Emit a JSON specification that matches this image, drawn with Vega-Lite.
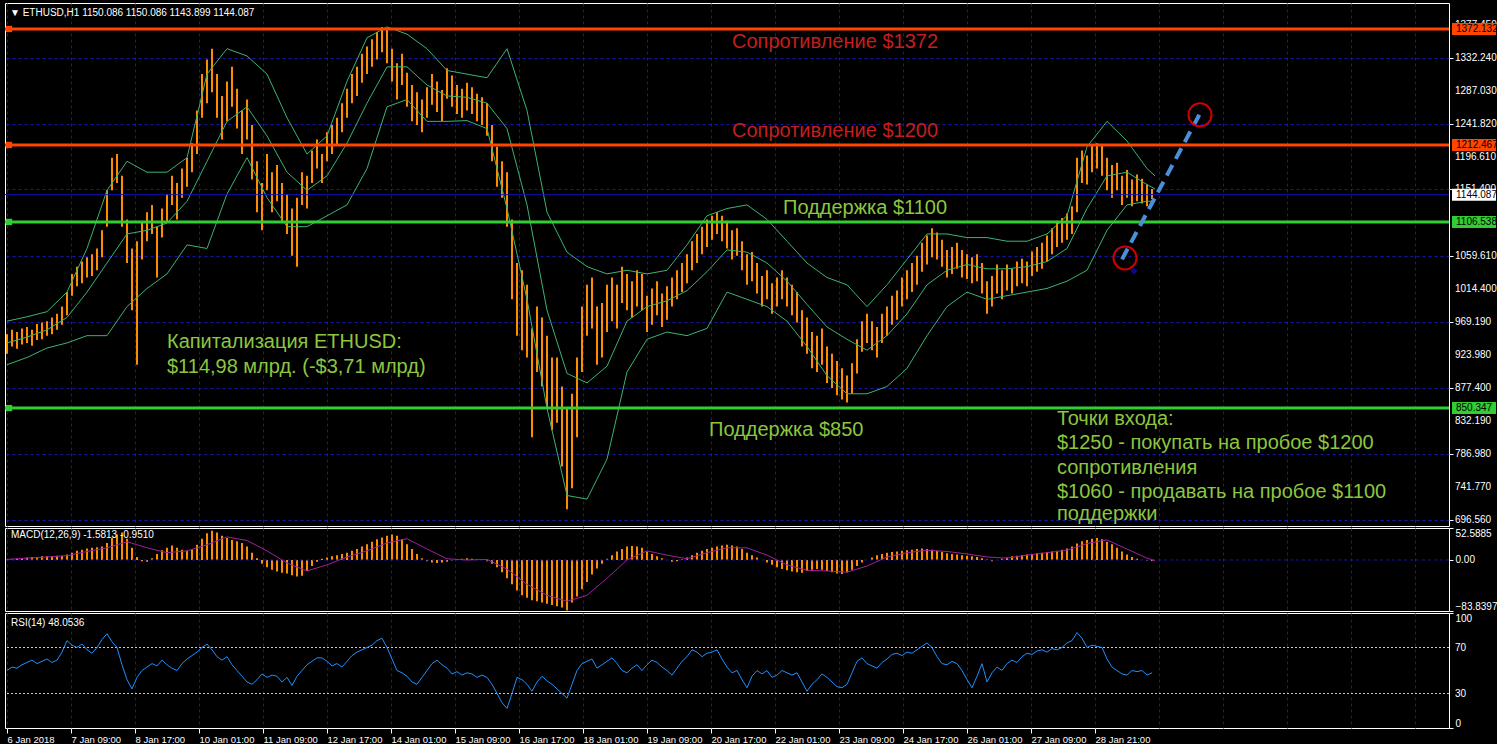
{
"$schema": "https://vega.github.io/schema/vega-lite/v6.json",
"background": "black",
"padding": {"left": 3, "top": 2, "right": 0, "bottom": 0},
"bounds": "flush",
"spacing": 2,
"config": {"view": {"stroke": "white", "strokeWidth": 1}, "font": "Liberation Sans", "axis": {"labelFont": "Liberation Sans", "labelOverlap": false, "labelBound": false}, "axisY": {"labelOverlap": false}, "text": {"font": "Liberation Sans"}, "scale": {"continuousPadding": 0}},
"datasets": {
"bars": [
{"t":0,"h":952,"l":925,"m":1,"r":50},{"t":2.5,"h":958,"l":935,"m":1,"r":53},{"t":5,"h":955,"l":932,"m":2,"r":52},{"t":7.5,"h":960,"l":938,"m":2,"r":55},{"t":10,"h":962,"l":940,"m":4,"r":57},{"t":12.5,"h":958,"l":936,"m":5,"r":59},{"t":15,"h":966,"l":944,"m":5,"r":56},{"t":17.5,"h":968,"l":945,"m":6,"r":58},{"t":20,"h":970,"l":950,"m":6,"r":60},{"t":22.5,"h":975,"l":952,"m":6,"r":57},
{"t":25,"h":980,"l":958,"m":7,"r":59},{"t":27.5,"h":990,"l":965,"m":7,"r":66},{"t":30,"h":1010,"l":978,"m":9,"r":76},{"t":32.5,"h":1035,"l":1005,"m":12,"r":72},{"t":35,"h":1045,"l":1018,"m":15,"r":70},{"t":37.5,"h":1052,"l":1022,"m":17,"r":73},{"t":40,"h":1058,"l":1030,"m":19,"r":68},{"t":42.5,"h":1062,"l":1032,"m":20,"r":65},{"t":45,"h":1070,"l":1040,"m":21,"r":70},{"t":47.5,"h":1095,"l":1058,"m":22,"r":77},
{"t":50,"h":1150,"l":1100,"m":28,"r":82},{"t":52.5,"h":1195,"l":1150,"m":36,"r":75},{"t":55,"h":1200,"l":1160,"m":42,"r":70},{"t":57.5,"h":1170,"l":1100,"m":45,"r":55},{"t":60,"h":1110,"l":1050,"m":35,"r":42},{"t":62.5,"h":1070,"l":985,"m":20,"r":34},{"t":65,"h":1080,"l":910,"m":5,"r":44},{"t":67.5,"h":1105,"l":1055,"m":-2,"r":50},{"t":70,"h":1120,"l":1080,"m":-3,"r":53},{"t":72.5,"h":1130,"l":1090,"m":3,"r":56},
{"t":75,"h":1100,"l":1030,"m":10,"r":54},{"t":77.5,"h":1125,"l":1085,"m":16,"r":59},{"t":80,"h":1145,"l":1105,"m":20,"r":55},{"t":82.5,"h":1170,"l":1130,"m":24,"r":52},{"t":85,"h":1160,"l":1110,"m":20,"r":50},{"t":87.5,"h":1180,"l":1140,"m":17,"r":56},{"t":90,"h":1195,"l":1155,"m":15,"r":60},{"t":92.5,"h":1215,"l":1175,"m":18,"r":63},{"t":95,"h":1260,"l":1200,"m":25,"r":66},{"t":97.5,"h":1310,"l":1250,"m":35,"r":70},
{"t":100,"h":1330,"l":1270,"m":44,"r":73},{"t":102.5,"h":1345,"l":1285,"m":48,"r":68},{"t":105,"h":1310,"l":1250,"m":45,"r":62},{"t":107.5,"h":1280,"l":1220,"m":40,"r":59},{"t":110,"h":1300,"l":1245,"m":36,"r":62},{"t":112.5,"h":1320,"l":1265,"m":33,"r":55},{"t":115,"h":1290,"l":1235,"m":31,"r":50},{"t":117.5,"h":1260,"l":1200,"m":28,"r":45},{"t":120,"h":1275,"l":1220,"m":22,"r":40},{"t":122.5,"h":1240,"l":1165,"m":12,"r":38},
{"t":125,"h":1190,"l":1120,"m":3,"r":42},{"t":127.5,"h":1160,"l":1095,"m":-6,"r":47},{"t":130,"h":1200,"l":1150,"m":-12,"r":44},{"t":132.5,"h":1175,"l":1120,"m":-16,"r":46},{"t":135,"h":1185,"l":1135,"m":-19,"r":45},{"t":137.5,"h":1160,"l":1105,"m":-21,"r":40},{"t":140,"h":1145,"l":1090,"m":-22,"r":44},{"t":142.5,"h":1125,"l":1060,"m":-25,"r":37},{"t":145,"h":1140,"l":1045,"m":-27,"r":45},{"t":147.5,"h":1175,"l":1130,"m":-26,"r":50},
{"t":150,"h":1170,"l":1125,"m":-18,"r":55},{"t":152.5,"h":1205,"l":1160,"m":-10,"r":58},{"t":155,"h":1220,"l":1180,"m":-3,"r":61},{"t":157.5,"h":1200,"l":1160,"m":2,"r":61},{"t":160,"h":1230,"l":1190,"m":4,"r":58},{"t":162.5,"h":1240,"l":1200,"m":6,"r":54},{"t":165,"h":1250,"l":1212,"m":8,"r":56},{"t":167.5,"h":1270,"l":1230,"m":10,"r":53},{"t":170,"h":1290,"l":1250,"m":12,"r":58},{"t":172.5,"h":1310,"l":1270,"m":15,"r":63},
{"t":175,"h":1320,"l":1280,"m":18,"r":66},{"t":177.5,"h":1338,"l":1298,"m":22,"r":68},{"t":180,"h":1348,"l":1310,"m":26,"r":70},{"t":182.5,"h":1358,"l":1320,"m":30,"r":72},{"t":185,"h":1368,"l":1330,"m":34,"r":76},{"t":187.5,"h":1375,"l":1340,"m":37,"r":78},{"t":190,"h":1372,"l":1325,"m":40,"r":70},{"t":192.5,"h":1345,"l":1300,"m":42,"r":60},{"t":195,"h":1325,"l":1275,"m":40,"r":50},{"t":197.5,"h":1338,"l":1295,"m":34,"r":48},
{"t":200,"h":1312,"l":1265,"m":26,"r":45},{"t":202.5,"h":1295,"l":1245,"m":18,"r":40},{"t":205,"h":1285,"l":1240,"m":10,"r":38},{"t":207.5,"h":1275,"l":1230,"m":3,"r":44},{"t":210,"h":1292,"l":1250,"m":-2,"r":50},{"t":212.5,"h":1310,"l":1268,"m":-4,"r":56},{"t":215,"h":1300,"l":1258,"m":-5,"r":59},{"t":217.5,"h":1288,"l":1245,"m":-4,"r":55},{"t":220,"h":1318,"l":1276,"m":-3,"r":52},{"t":222.5,"h":1308,"l":1265,"m":-1,"r":47},
{"t":225,"h":1295,"l":1255,"m":1,"r":49},{"t":227.5,"h":1290,"l":1250,"m":2,"r":46},{"t":230,"h":1298,"l":1260,"m":3,"r":48},{"t":232.5,"h":1292,"l":1255,"m":2,"r":47},{"t":235,"h":1283,"l":1245,"m":1,"r":44},{"t":237.5,"h":1278,"l":1240,"m":0,"r":46},{"t":240,"h":1270,"l":1225,"m":-2,"r":44},{"t":242.5,"h":1240,"l":1190,"m":-6,"r":38},{"t":245,"h":1210,"l":1155,"m":-12,"r":30},{"t":247.5,"h":1190,"l":1140,"m":-20,"r":22},
{"t":250,"h":1175,"l":1100,"m":-30,"r":17},{"t":252.5,"h":1110,"l":1000,"m":-40,"r":30},{"t":255,"h":1050,"l":950,"m":-50,"r":44},{"t":257.5,"h":1040,"l":930,"m":-58,"r":42},{"t":260,"h":1020,"l":920,"m":-62,"r":38},{"t":262.5,"h":960,"l":810,"m":-66,"r":32},{"t":265,"h":990,"l":900,"m":-68,"r":40},{"t":267.5,"h":975,"l":880,"m":-70,"r":45},{"t":270,"h":950,"l":850,"m":-72,"r":41},{"t":272.5,"h":920,"l":820,"m":-74,"r":38},
{"t":275,"h":920,"l":830,"m":-76,"r":34},{"t":277.5,"h":880,"l":770,"m":-78,"r":30},{"t":280,"h":850,"l":711,"m":-83,"r":26},{"t":282.5,"h":870,"l":740,"m":-70,"r":38},{"t":285,"h":920,"l":810,"m":-60,"r":50},{"t":287.5,"h":990,"l":900,"m":-48,"r":56},{"t":290,"h":1020,"l":950,"m":-36,"r":58},{"t":292.5,"h":1030,"l":960,"m":-24,"r":60},{"t":295,"h":990,"l":910,"m":-14,"r":52},{"t":297.5,"h":995,"l":920,"m":-6,"r":55},
{"t":300,"h":1020,"l":955,"m":2,"r":58},{"t":302.5,"h":1030,"l":970,"m":8,"r":61},{"t":305,"h":1020,"l":960,"m":14,"r":56},{"t":307.5,"h":1045,"l":995,"m":18,"r":50},{"t":310,"h":1035,"l":985,"m":22,"r":48},{"t":312.5,"h":1025,"l":975,"m":23,"r":52},{"t":315,"h":1040,"l":990,"m":22,"r":55},{"t":317.5,"h":1035,"l":985,"m":20,"r":50},{"t":320,"h":1005,"l":955,"m":14,"r":55},{"t":322.5,"h":1015,"l":965,"m":10,"r":59},
{"t":325,"h":1025,"l":978,"m":6,"r":57},{"t":327.5,"h":1008,"l":962,"m":3,"r":53},{"t":330,"h":1018,"l":972,"m":0,"r":50},{"t":332.5,"h":1030,"l":990,"m":-3,"r":46},{"t":335,"h":1040,"l":1000,"m":-2,"r":52},{"t":337.5,"h":1050,"l":1010,"m":1,"r":58},{"t":340,"h":1062,"l":1022,"m":4,"r":62},{"t":342.5,"h":1080,"l":1040,"m":8,"r":68},{"t":345,"h":1090,"l":1050,"m":12,"r":66},{"t":347.5,"h":1100,"l":1062,"m":15,"r":62},
{"t":350,"h":1110,"l":1072,"m":18,"r":65},{"t":352.5,"h":1115,"l":1082,"m":20,"r":66},{"t":355,"h":1120,"l":1090,"m":22,"r":68},{"t":357.5,"h":1115,"l":1080,"m":24,"r":60},{"t":360,"h":1108,"l":1070,"m":25,"r":53},{"t":362.5,"h":1095,"l":1055,"m":24,"r":48},{"t":365,"h":1098,"l":1060,"m":22,"r":50},{"t":367.5,"h":1080,"l":1040,"m":18,"r":42},{"t":370,"h":1062,"l":1020,"m":12,"r":35},{"t":372.5,"h":1065,"l":1025,"m":8,"r":45},
{"t":375,"h":1050,"l":1008,"m":4,"r":50},{"t":377.5,"h":1032,"l":990,"m":0,"r":47},{"t":380,"h":1040,"l":1000,"m":-4,"r":50},{"t":382.5,"h":1022,"l":980,"m":-8,"r":44},{"t":385,"h":1030,"l":990,"m":-12,"r":46},{"t":387.5,"h":1040,"l":1000,"m":-15,"r":50},{"t":390,"h":1030,"l":990,"m":-17,"r":48},{"t":392.5,"h":1020,"l":978,"m":-19,"r":46},{"t":395,"h":1010,"l":968,"m":-20,"r":48},{"t":397.5,"h":985,"l":935,"m":-21,"r":40},
{"t":400,"h":975,"l":925,"m":-18,"r":32},{"t":402.5,"h":955,"l":905,"m":-16,"r":38},{"t":405,"h":950,"l":900,"m":-15,"r":42},{"t":407.5,"h":960,"l":910,"m":-16,"r":47},{"t":410,"h":935,"l":885,"m":-18,"r":44},{"t":412.5,"h":925,"l":878,"m":-20,"r":40},{"t":415,"h":915,"l":868,"m":-22,"r":36},{"t":417.5,"h":905,"l":862,"m":-23,"r":35},{"t":420,"h":895,"l":858,"m":-20,"r":38},{"t":422.5,"h":912,"l":870,"m":-16,"r":48},
{"t":425,"h":945,"l":898,"m":-10,"r":58},{"t":427.5,"h":970,"l":928,"m":-4,"r":61},{"t":430,"h":980,"l":940,"m":0,"r":56},{"t":432.5,"h":970,"l":930,"m":4,"r":54},{"t":435,"h":962,"l":920,"m":8,"r":52},{"t":437.5,"h":980,"l":940,"m":10,"r":57},{"t":440,"h":990,"l":950,"m":12,"r":60},{"t":442.5,"h":1005,"l":965,"m":13,"r":64},{"t":445,"h":1012,"l":972,"m":14,"r":65},{"t":447.5,"h":1030,"l":990,"m":15,"r":63},
{"t":450,"h":1040,"l":1000,"m":16,"r":66},{"t":452.5,"h":1050,"l":1010,"m":17,"r":65},{"t":455,"h":1060,"l":1020,"m":18,"r":68},{"t":457.5,"h":1078,"l":1038,"m":19,"r":71},{"t":460,"h":1088,"l":1048,"m":18,"r":74},{"t":462.5,"h":1098,"l":1058,"m":17,"r":70},{"t":465,"h":1092,"l":1055,"m":15,"r":62},{"t":467.5,"h":1082,"l":1045,"m":13,"r":56},{"t":470,"h":1068,"l":1030,"m":11,"r":55},{"t":472.5,"h":1072,"l":1035,"m":10,"r":58},
{"t":475,"h":1078,"l":1042,"m":9,"r":56},{"t":477.5,"h":1068,"l":1030,"m":8,"r":50},{"t":480,"h":1062,"l":1028,"m":7,"r":42},{"t":482.5,"h":1058,"l":1022,"m":6,"r":35},{"t":485,"h":1062,"l":1025,"m":5,"r":45},{"t":487.5,"h":1050,"l":1008,"m":3,"r":56},{"t":490,"h":1025,"l":980,"m":1,"r":40},{"t":492.5,"h":1032,"l":990,"m":-2,"r":48},{"t":495,"h":1048,"l":1008,"m":0,"r":53},{"t":497.5,"h":1040,"l":1000,"m":2,"r":50},
{"t":500,"h":1048,"l":1012,"m":4,"r":56},{"t":502.5,"h":1042,"l":1008,"m":6,"r":59},{"t":505,"h":1052,"l":1018,"m":7,"r":57},{"t":507.5,"h":1056,"l":1022,"m":8,"r":62},{"t":510,"h":1052,"l":1018,"m":9,"r":65},{"t":512.5,"h":1066,"l":1032,"m":10,"r":64},{"t":515,"h":1072,"l":1038,"m":11,"r":67},{"t":517.5,"h":1078,"l":1042,"m":12,"r":68},{"t":520,"h":1088,"l":1052,"m":13,"r":66},{"t":522.5,"h":1098,"l":1062,"m":14,"r":69},
{"t":525,"h":1108,"l":1072,"m":15,"r":68},{"t":527.5,"h":1112,"l":1078,"m":17,"r":70},{"t":530,"h":1118,"l":1082,"m":19,"r":74},{"t":532.5,"h":1128,"l":1090,"m":22,"r":76},{"t":535,"h":1195,"l":1120,"m":27,"r":83},{"t":537.5,"h":1205,"l":1160,"m":31,"r":78},{"t":540,"h":1198,"l":1158,"m":33,"r":70},{"t":542.5,"h":1212,"l":1175,"m":35,"r":72},{"t":545,"h":1215,"l":1180,"m":36,"r":71},{"t":547.5,"h":1212,"l":1170,"m":34,"r":70},
{"t":550,"h":1195,"l":1150,"m":30,"r":60},{"t":552.5,"h":1185,"l":1140,"m":26,"r":53},{"t":555,"h":1188,"l":1150,"m":20,"r":50},{"t":557.5,"h":1170,"l":1130,"m":14,"r":47},{"t":560,"h":1178,"l":1140,"m":9,"r":46},{"t":562.5,"h":1165,"l":1128,"m":5,"r":50},{"t":565,"h":1172,"l":1135,"m":2,"r":49},{"t":567.5,"h":1166,"l":1132,"m":0,"r":50},{"t":570,"h":1158,"l":1128,"m":-1,"r":46},{"t":572.5,"h":1152,"l":1138,"m":-1.6,"r":48}
],
"bb": [
{"t":0,"u":970,"c":940,"lo":910},{"t":10,"u":976,"c":948,"lo":920},{"t":20,"u":983,"c":958,"lo":933},{"t":30,"u":1010,"c":975,"lo":940},{"t":40,"u":1070,"c":1010,"lo":950},{"t":50,"u":1150,"c":1050,"lo":950},{"t":60,"u":1190,"c":1090,"lo":990},{"t":70,"u":1175,"c":1095,"lo":1015},{"t":80,"u":1175,"c":1105,"lo":1035},{"t":90,"u":1195,"c":1135,"lo":1075},
{"t":100,"u":1310,"c":1190,"lo":1070},{"t":110,"u":1345,"c":1245,"lo":1145},{"t":120,"u":1335,"c":1265,"lo":1195},{"t":130,"u":1310,"c":1225,"lo":1140},{"t":140,"u":1250,"c":1175,"lo":1100},{"t":150,"u":1200,"c":1150,"lo":1100},{"t":160,"u":1225,"c":1170,"lo":1115},{"t":170,"u":1300,"c":1215,"lo":1130},{"t":180,"u":1360,"c":1270,"lo":1180},{"t":190,"u":1375,"c":1320,"lo":1265},
{"t":200,"u":1365,"c":1320,"lo":1275},{"t":210,"u":1345,"c":1295,"lo":1245},{"t":220,"u":1315,"c":1280,"lo":1245},{"t":230,"u":1310,"c":1278,"lo":1246},{"t":240,"u":1305,"c":1270,"lo":1235},{"t":250,"u":1345,"c":1235,"lo":1125},{"t":260,"u":1260,"c":1130,"lo":1000},{"t":270,"u":1120,"c":985,"lo":850},{"t":280,"u":1065,"c":898,"lo":730},{"t":290,"u":1045,"c":885,"lo":725},
{"t":300,"u":1035,"c":908,"lo":780},{"t":310,"u":1040,"c":970,"lo":900},{"t":320,"u":1035,"c":990,"lo":945},{"t":330,"u":1040,"c":998,"lo":955},{"t":340,"u":1075,"c":1012,"lo":950},{"t":350,"u":1115,"c":1038,"lo":960},{"t":360,"u":1125,"c":1068,"lo":1010},{"t":370,"u":1130,"c":1065,"lo":1000},{"t":380,"u":1110,"c":1050,"lo":990},{"t":390,"u":1080,"c":1025,"lo":970},
{"t":400,"u":1050,"c":993,"lo":935},{"t":410,"u":1030,"c":962,"lo":895},{"t":420,"u":1020,"c":945,"lo":870},{"t":430,"u":990,"c":930,"lo":870},{"t":440,"u":1020,"c":950,"lo":880},{"t":450,"u":1055,"c":980,"lo":905},{"t":460,"u":1090,"c":1020,"lo":950},{"t":470,"u":1090,"c":1040,"lo":990},{"t":480,"u":1085,"c":1048,"lo":1010},{"t":490,"u":1085,"c":1042,"lo":1000},
{"t":500,"u":1080,"c":1042,"lo":1005},{"t":510,"u":1080,"c":1045,"lo":1010},{"t":520,"u":1090,"c":1052,"lo":1015},{"t":530,"u":1115,"c":1070,"lo":1025},{"t":540,"u":1210,"c":1125,"lo":1040},{"t":550,"u":1245,"c":1170,"lo":1095},{"t":560,"u":1218,"c":1175,"lo":1130},{"t":570,"u":1180,"c":1158,"lo":1135},{"t":574,"u":1170,"c":1152,"lo":1135}
],
"sig": [
{"t":0,"s":1},{"t":10,"s":3},{"t":20,"s":5},{"t":30,"s":7},{"t":40,"s":14},{"t":50,"s":20},{"t":60,"s":30},{"t":70,"s":20},{"t":80,"s":12},{"t":90,"s":15},{"t":100,"s":25},{"t":110,"s":38},{"t":120,"s":32},{"t":130,"s":15},{"t":140,"s":-5},{"t":150,"s":-18},{"t":160,"s":-8},{"t":170,"s":5},{"t":180,"s":15},{"t":190,"s":28},{"t":200,"s":35},{"t":210,"s":18},{"t":220,"s":2},{"t":230,"s":0},{"t":240,"s":1},{"t":250,"s":-15},{"t":260,"s":-40},{"t":270,"s":-58},{"t":280,"s":-68},{"t":290,"s":-58},{"t":300,"s":-30},{"t":310,"s":0},{"t":320,"s":15},{"t":330,"s":8},{"t":340,"s":2},{"t":350,"s":12},{"t":360,"s":20},{"t":370,"s":20},{"t":380,"s":8},{"t":390,"s":-8},{"t":400,"s":-17},{"t":410,"s":-18},{"t":420,"s":-20},{"t":430,"s":-10},{"t":440,"s":5},{"t":450,"s":12},{"t":460,"s":16},{"t":470,"s":14},{"t":480,"s":10},{"t":490,"s":5},{"t":500,"s":3},{"t":510,"s":8},{"t":520,"s":12},{"t":530,"s":16},{"t":540,"s":27},{"t":550,"s":33},{"t":560,"s":18},{"t":570,"s":3},{"t":574,"s":-0.951}
],
"levels": [
{"v":1372.132,"lab":"1372.132","kind":"res"},{"v":1212.467,"lab":"1212.467","kind":"res"},{"v":1144.087,"lab":"1144.087","kind":"bid"},{"v":1106.538,"lab":"1106.538","kind":"sup"},{"v":850.347,"lab":"850.347","kind":"sup"}
],
"pricelabels": [
{"v":696.56,"lab":"696.560"},{"v":741.77,"lab":"741.770"},{"v":786.98,"lab":"786.980"},{"v":832.19,"lab":"832.190"},{"v":877.40,"lab":"877.400"},{"v":923.98,"lab":"923.980"},{"v":969.19,"lab":"969.190"},{"v":1014.40,"lab":"1014.400"},{"v":1059.61,"lab":"1059.610"},{"v":1106.19,"lab":"1106.190"},{"v":1151.40,"lab":"1151.400"},{"v":1196.61,"lab":"1196.610"},{"v":1241.82,"lab":"1241.820"},{"v":1287.03,"lab":"1287.030"},{"v":1332.24,"lab":"1332.240"},{"v":1377.45,"lab":"1377.450"}
],
"notes": [
{"t":362.5,"p":1354.2,"txt":"Сопротивление $1372","kind":"rtext"},
{"t":362.5,"p":1231.7,"txt":"Сопротивление $1200","kind":"rtext"},
{"t":388,"p":1125.7,"txt":"Поддержка $1100","kind":"gtext"},
{"t":351,"p":820.1,"txt":"Поддержка $850","kind":"gtext"},
{"t":80,"p":941.3,"txt":"Капитализация ETHUSD:","kind":"gtext"},
{"t":80,"p":906.9,"txt":"$114,98 млрд. (-$3,71 млрд)","kind":"gtext"},
{"t":525,"p":835.3,"txt":"Точки входа:","kind":"gtext"},
{"t":525,"p":802.5,"txt":"$1250 - покупать на пробое $1200","kind":"gtext"},
{"t":525,"p":768.5,"txt":"сопротивления","kind":"gtext"},
{"t":525,"p":734.8,"txt":"$1060 - продавать на пробое $1100","kind":"gtext"},
{"t":525,"p":704.5,"txt":"поддержки","kind":"gtext"}
],
"hdr": [{"t":1.5,"p":1394,"txt":"▼ ETHUSD,H1  1150.086 1150.086 1143.899 1144.087"}],
"trend": [{"t":557.5,"p":1055},{"t":597.5,"p":1261}],
"circles": [{"t":559,"p":1057},{"t":596.5,"p":1254}],
"anchor": [{"t":563.5,"p":1039}],
"zero": [{"v":0}],
"macdlbl": [{"t":2,"v":41,"txt":"MACD(12,26,9) -1.5813 -0.9510"}],
"rsilev": [{"v":30},{"v":70}],
"rsilabels": [{"v":30,"lab":"30"},{"v":70,"lab":"70"}],
"rsilbl": [{"t":2,"v":91,"txt":"RSI(14) 48.0536"}]
},
"vconcat": [
{
"width": 1444, "height": 523,
"layer": [
{"data": {"name": "bars"}, "mark": {"type": "rule", "color": "#FF8C00", "strokeWidth": 2},
 "encoding": {
  "x": {"field": "t", "type": "quantitative", "scale": {"domain": [-1, 721], "nice": false, "zero": false, "padding": 0},
        "axis": {"orient": "bottom", "values": [0,16,32,48,64,80,96,112,128,144,160,176,192,208,224,240,256,272,288,304,320,336,352,368,384,400,416,432,448,464,480,496,512,528,544,560,576,592,608,624,640,656,672,688,704,720], "grid": true, "gridColor": "#1616A8", "gridDash": [3,3], "gridWidth": 1, "labels": false, "ticks": false, "domain": false, "title": null}},
  "y": {"field": "l", "type": "quantitative", "scale": {"domain": [688.0, 1407.9], "nice": false, "zero": false, "padding": 0},
        "axis": {"orient": "right", "values": [696.56,741.77,786.98,832.19,877.40,923.98,969.19,1014.40,1059.61,1106.19,1151.40,1196.61,1241.82,1287.03,1332.24,1377.45], "grid": true, "gridColor": "#1616A8", "gridDash": [3,3], "tickColor": "white", "tickSize": 4, "labels": false, "domain": false, "title": null}},
  "y2": {"field": "h"}
 }},
{"data": {"name": "pricelabels"}, "mark": {"type": "text", "align": "left", "baseline": "middle", "fontSize": 10, "color": "white"}, "encoding": {"x": {"datum": 724}, "y": {"field": "v", "type": "quantitative"}, "text": {"field": "lab"}}},
{"data": {"name": "bb"}, "mark": {"type": "line", "color": "#3CB371", "strokeWidth": 1}, "encoding": {"x": {"field": "t", "type": "quantitative"}, "y": {"field": "u", "type": "quantitative"}}},
{"data": {"name": "bb"}, "mark": {"type": "line", "color": "#3CB371", "strokeWidth": 1}, "encoding": {"x": {"field": "t", "type": "quantitative"}, "y": {"field": "c", "type": "quantitative"}}},
{"data": {"name": "bb"}, "mark": {"type": "line", "color": "#3CB371", "strokeWidth": 1}, "encoding": {"x": {"field": "t", "type": "quantitative"}, "y": {"field": "lo", "type": "quantitative"}}},
{"data": {"name": "levels"}, "transform": [{"filter": "datum.kind == 'bid'"}], "mark": {"type": "rule", "color": "#1010B8", "strokeWidth": 1}, "encoding": {"y": {"field": "v", "type": "quantitative"}}},
{"data": {"name": "levels"}, "transform": [{"filter": "datum.kind != 'bid'"}], "mark": {"type": "rule", "strokeWidth": 3}, "encoding": {"y": {"field": "v", "type": "quantitative"}, "color": {"field": "kind", "type": "nominal", "scale": {"domain": ["res","sup","bid","rtext","gtext"], "range": ["#FF4500","#32CD32","#FFFFFF","#C41E1E","#8CC63F"]}, "legend": null}}},
{"data": {"name": "levels"}, "transform": [{"filter": "datum.kind != 'bid'"}], "mark": {"type": "point", "shape": "square", "filled": true, "size": 40, "opacity": 1}, "encoding": {"x": {"datum": 1}, "y": {"field": "v", "type": "quantitative"}, "color": {"field": "kind", "type": "nominal", "scale": {"domain": ["res","sup","bid","rtext","gtext"], "range": ["#FF4500","#32CD32","#FFFFFF","#C41E1E","#8CC63F"]}, "legend": null}}},
{"data": {"name": "notes"}, "mark": {"type": "text", "align": "left", "baseline": "middle", "fontSize": 20, "font": "Liberation Sans"}, "encoding": {"x": {"field": "t", "type": "quantitative"}, "y": {"field": "p", "type": "quantitative"}, "text": {"field": "txt"}, "color": {"field": "kind", "type": "nominal", "scale": {"domain": ["res","sup","bid","rtext","gtext"], "range": ["#FF4500","#32CD32","#FFFFFF","#C41E1E","#8CC63F"]}, "legend": null}}},
{"data": {"name": "hdr"}, "mark": {"type": "text", "align": "left", "baseline": "middle", "fontSize": 10, "color": "white"}, "encoding": {"x": {"field": "t", "type": "quantitative"}, "y": {"field": "p", "type": "quantitative"}, "text": {"field": "txt"}}},
{"data": {"name": "trend"}, "mark": {"type": "line", "color": "#4A8FD8", "strokeWidth": 4, "strokeDash": [12,7]}, "encoding": {"x": {"field": "t", "type": "quantitative"}, "y": {"field": "p", "type": "quantitative"}}},
{"data": {"name": "circles"}, "mark": {"type": "point", "shape": "circle", "filled": false, "size": 530, "stroke": "#D00000", "strokeWidth": 2, "opacity": 1}, "encoding": {"x": {"field": "t", "type": "quantitative"}, "y": {"field": "p", "type": "quantitative"}}},
{"data": {"name": "anchor"}, "mark": {"type": "point", "shape": "diamond", "filled": true, "size": 50, "color": "#0A0A90", "opacity": 1}, "encoding": {"x": {"field": "t", "type": "quantitative"}, "y": {"field": "p", "type": "quantitative"}}},
{"data": {"name": "levels"}, "mark": {"type": "bar", "height": 12}, "encoding": {"x": {"datum": 722.5}, "x2": {"datum": 744.5}, "y": {"field": "v", "type": "quantitative"}, "color": {"field": "kind", "type": "nominal", "scale": {"domain": ["res","sup","bid","rtext","gtext"], "range": ["#FF4500","#32CD32","#FFFFFF","#C41E1E","#8CC63F"]}, "legend": null}}},
{"data": {"name": "levels"}, "mark": {"type": "text", "align": "left", "baseline": "middle", "fontSize": 10, "color": "black"}, "encoding": {"x": {"datum": 724.5}, "y": {"field": "v", "type": "quantitative"}, "text": {"field": "lab"}}}
]
},
{
"width": 1444, "height": 83,
"layer": [
{"data": {"name": "bars"}, "mark": {"type": "rule", "color": "#FF8C00", "strokeWidth": 2},
 "encoding": {
  "x": {"field": "t", "type": "quantitative", "scale": {"domain": [-1, 721], "nice": false, "zero": false, "padding": 0},
        "axis": {"orient": "bottom", "values": [0,16,32,48,64,80,96,112,128,144,160,176,192,208,224,240,256,272,288,304,320,336,352,368,384,400,416,432,448,464,480,496,512,528,544,560,576,592,608,624,640,656,672,688,704,720], "grid": true, "gridColor": "#1616A8", "gridDash": [3,3], "labels": false, "ticks": false, "domain": false, "title": null}},
  "y": {"field": "m", "type": "quantitative", "scale": {"domain": [-83.8397, 52.5885], "nice": false, "zero": false, "padding": 0},
        "axis": {"orient": "right", "values": [-83.8397, 0, 52.5885], "labelExpr": "datum.value == 0 ? '0.00' : format(datum.value, '.4f')", "labelFlush": true, "grid": false, "tickColor": "white", "tickSize": 4, "labelColor": "white", "labelFontSize": 10, "labelPadding": 2, "labelOverlap": false, "domain": false, "title": null}},
  "y2": {"datum": 0}
 }},
{"data": {"name": "zero"}, "mark": {"type": "rule", "color": "#1616A8", "strokeDash": [3,3], "strokeWidth": 1}, "encoding": {"y": {"field": "v", "type": "quantitative"}}},
{"data": {"name": "sig"}, "mark": {"type": "line", "color": "#A020A0", "strokeWidth": 1}, "encoding": {"x": {"field": "t", "type": "quantitative"}, "y": {"field": "s", "type": "quantitative"}}},
{"data": {"name": "macdlbl"}, "mark": {"type": "text", "align": "left", "baseline": "middle", "fontSize": 10, "color": "white"}, "encoding": {"x": {"field": "t", "type": "quantitative"}, "y": {"field": "v", "type": "quantitative"}, "text": {"field": "txt"}}}
]
},
{
"width": 1444, "height": 115,
"layer": [
{"data": {"name": "rsilev"}, "mark": {"type": "rule", "color": "#C8C8C8", "strokeDash": [2,2], "strokeWidth": 1}, "encoding": {"y": {"field": "v", "type": "quantitative", "scale": {"domain": [0, 100], "nice": false, "zero": false, "padding": 0}}}},
{"data": {"name": "bars"}, "mark": {"type": "line", "color": "#1E90FF", "strokeWidth": 1},
 "encoding": {
  "x": {"field": "t", "type": "quantitative", "scale": {"domain": [-1, 721], "nice": false, "zero": false, "padding": 0},
        "axis": {"orient": "bottom", "values": [0,16,32,48,64,80,96,112,128,144,160,176,192,208,224,240,256,272,288,304,320,336,352,368,384,400,416,432,448,464,480,496,512,528,544,560,576,592,608,624,640,656,672,688,704,720], "grid": true, "gridColor": "#1616A8", "gridDash": [3,3], "domain": false, "ticks": true, "tickColor": "white", "tickSize": 5, "tickOpacity": {"condition": {"test": "datum.value % 32 == 0 && datum.value <= 544", "value": 1}, "value": 0}, "labelExpr": "datum.value % 32 == 0 && datum.value <= 544 ? ['6 Jan 2018','7 Jan 09:00','8 Jan 17:00','10 Jan 01:00','11 Jan 09:00','12 Jan 17:00','14 Jan 01:00','15 Jan 09:00','16 Jan 17:00','18 Jan 01:00','19 Jan 09:00','20 Jan 17:00','22 Jan 01:00','23 Jan 09:00','24 Jan 17:00','26 Jan 01:00','27 Jan 09:00','28 Jan 21:00'][datum.value / 32] : ''", "labelAlign": "left", "labelColor": "white", "labelFontSize": 9.5, "labelPadding": 1, "labelOverlap": false, "labelBound": false, "labelFlush": false, "title": null}},
  "y": {"field": "r", "type": "quantitative",
        "axis": {"orient": "right", "values": [0, 30, 70, 100], "labelExpr": "datum.value == 0 || datum.value == 100 ? datum.label : ''", "labelFlush": true, "grid": false, "tickColor": "white", "tickSize": 4, "labelColor": "white", "labelFontSize": 10, "labelPadding": 2, "labelOverlap": false, "domain": false, "title": null}}
 }},
{"data": {"name": "rsilabels"}, "mark": {"type": "text", "align": "left", "baseline": "middle", "fontSize": 10, "color": "white"}, "encoding": {"x": {"datum": 724}, "y": {"field": "v", "type": "quantitative"}, "text": {"field": "lab"}}},
{"data": {"name": "rsilbl"}, "mark": {"type": "text", "align": "left", "baseline": "middle", "fontSize": 10, "color": "white"}, "encoding": {"x": {"field": "t", "type": "quantitative"}, "y": {"field": "v", "type": "quantitative"}, "text": {"field": "txt"}}}
]
}
]
}
